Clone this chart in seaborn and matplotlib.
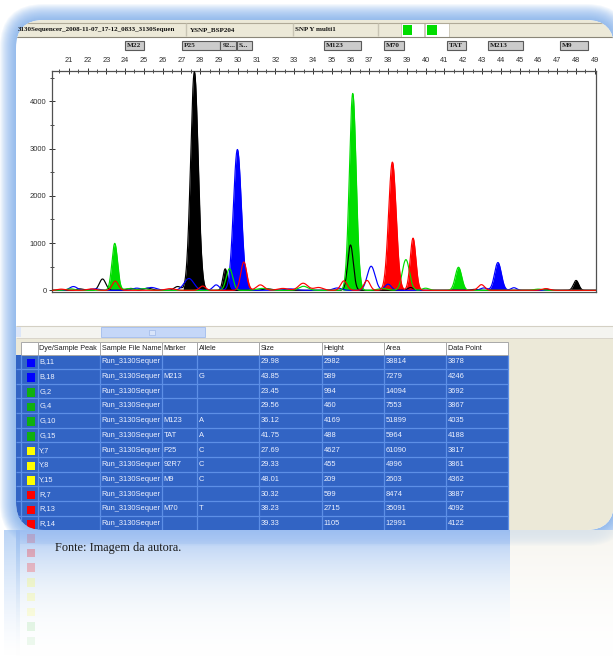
import numpy as np
import pandas as pd
import matplotlib
matplotlib.use("Agg")
import matplotlib.pyplot as plt
import matplotlib.transforms as mtransforms
from matplotlib.patches import FancyBboxPatch, Rectangle
from matplotlib.ticker import MultipleLocator
import seaborn as sns

# ------------------------------------------------------------------ data
dye_peak = ["B,11", "B,18", "G,2", "G,4", "G,10", "G,15", "Y,7", "Y,8", "Y,15", "R,7", "R,13", "R,14"]
sample_file = ["Run_3130Sequer"] * 12
marker = ["", "M213", "", "", "M123", "TAT", "P25", "92R7", "M9", "", "M70", ""]
allele = ["", "G", "", "", "A", "A", "C", "C", "C", "", "T", ""]
size_bp = [29.98, 43.85, 23.45, 29.56, 36.12, 41.75, 27.69, 29.33, 48.01, 30.32, 38.23, 39.33]
height = [2982, 589, 994, 460, 4169, 488, 4627, 455, 209, 599, 2715, 1105]
area = [38814, 7279, 14094, 7553, 51899, 5964, 61090, 4996, 2603, 8474, 35091, 12991]
data_point = [3878, 4246, 3692, 3867, 4035, 4188, 3817, 3861, 4362, 3887, 4092, 4122]
called_filled = [True, True, True, False, True, True, True, True, True, True, True, True]
called_width = [0.21, 0.18, 0.15, 0.17, 0.18, 0.17, 0.20, 0.12, 0.14, 0.16, 0.20, 0.15]

# uncalled (outline-only) peaks
minor_dye = ["Y", "Y", "Y", "Y", "Y", "Y", "Y", "Y", "Y", "Y",
             "B", "B", "B", "B", "B", "B", "B", "B", "B", "B", "B", "B",
             "G", "G", "G", "G", "G", "G", "G", "G", "G",
             "R", "R", "R", "R", "R", "R", "R", "R", "R", "R", "R", "R", "R"]
minor_size = [21.6, 22.8, 24.3, 25.2, 26.8, 31.6, 36.0, 39.2, 42.6, 46.4,
              21.25, 22.4, 24.6, 25.4, 27.4, 28.85, 32.8, 35.3, 37.1, 38.0, 43.1, 44.7,
              21.1, 24.2, 25.0, 31.3, 33.5, 37.7, 38.95, 40.0, 46.0,
              20.6, 22.2, 23.48, 26.4, 28.13, 31.2, 32.4, 33.48, 34.3, 35.65, 36.88, 42.97, 46.4]
minor_height = [30, 240, 40, 45, 80, 30, 960, 60, 20, 25,
                80, 30, 45, 60, 250, 115, 30, 50, 510, 130, 50, 55,
                30, 35, 35, 40, 85, 40, 650, 45, 25,
                25, 30, 195, 35, 90, 115, 40, 150, 60, 200, 210, 120, 35]
minor_width = [0.18, 0.17, 0.2, 0.22, 0.18, 0.25, 0.15, 0.15, 0.2, 0.18,
               0.2, 0.25, 0.22, 0.28, 0.26, 0.17, 0.3, 0.22, 0.21, 0.17, 0.18, 0.15,
               0.22, 0.25, 0.22, 0.3, 0.24, 0.25, 0.19, 0.18, 0.22,
               0.2, 0.22, 0.16, 0.25, 0.16, 0.21, 0.28, 0.24, 0.24, 0.17, 0.16, 0.17, 0.2]

marker_names = ["M22", "P25", "92...", "S...", "M123", "M70", "TAT", "M213", "M9"]
marker_lo = [24.0, 27.03, 29.07, 29.95, 34.58, 37.77, 41.12, 43.30, 47.14]
marker_hi = [25.0, 29.05, 29.93, 30.75, 36.55, 38.86, 42.13, 45.16, 48.64]

size_ticks = list(range(21, 50))
height_ticks = [0, 1000, 2000, 3000, 4000]

header_texts = ["3130Sequencer_2008-11-07_17-12_0833_3130Sequen", "YSNP_BSP204", "SNP Y multi1"]
table_columns = ["", "Dye/Sample Peak", "Sample File Name", "Marker", "Allele", "Size", "Height", "Area", "Data Point"]
caption = "Fonte: Imagem da autora."

dye_line_color = {"B": "#0000ff", "G": "#00dd00", "Y": "#000000", "R": "#ff0000"}
dye_square_color = {"B": "#0000ff", "G": "#10b010", "Y": "#ffff00", "R": "#ff0000"}

# ------------------------------------------------------------------ style
sns.set_style("white")
plt.rcParams["font.family"] = ["Liberation Sans", "DejaVu Sans"]

W, H = 613, 663
fig = plt.figure(figsize=(W / 100, H / 100), dpi=100)
fig.patch.set_facecolor("white")
bg = fig.add_axes([0, 0, 1, 1], zorder=0)
bg.set_xlim(0, W)
bg.set_ylim(H, 0)
bg.axis("off")

X0, Y0, X1, Y1, R = 16, 20, 614, 530, 28

# glow around frame
for d in range(16, 0, -1):
    bg.add_patch(FancyBboxPatch((X0 - d, Y0 - d), (X1 - X0) + 2 * d, (Y1 - Y0) + 2 * d,
                                boxstyle=f"round,pad=0,rounding_size={R + d}",
                                fc=(0.45, 0.66, 0.93), ec="none", alpha=0.075, zorder=1))

# reflection below the frame
ny = 130
alpha_col = np.linspace(1, 0, ny) ** 1.5
refl = np.zeros((ny, 2, 4))
refl[:, :, 0] = 0.62 + 0.28 * (1 - alpha_col[:, None])
refl[:, :, 1] = 0.75 + 0.19 * (1 - alpha_col[:, None])
refl[:, :, 2] = 0.95
refl[:, :, 3] = 0.85 * alpha_col[:, None]
bg.imshow(refl, extent=[X0, 510, Y1 + ny, Y1], aspect="auto", zorder=1, interpolation="bilinear")
refl2 = refl.copy()
refl2[:, :, 0] = 0.96
refl2[:, :, 1] = 0.95
refl2[:, :, 2] = 0.92
refl2[:, :, 3] = 0.75 * alpha_col[:, None]
bg.imshow(refl2, extent=[510, X1, Y1 + ny, Y1], aspect="auto", zorder=1, interpolation="bilinear")
# glow reflection at the left edge
edge = np.zeros((ny, 2, 4))
edge[:, :, 0] = 0.55
edge[:, :, 1] = 0.72
edge[:, :, 2] = 0.94
edge[:, :, 3] = 0.6 * alpha_col[:, None]
bg.imshow(edge, extent=[4, X0 + 4, Y1 + ny, Y1], aspect="auto", zorder=1, interpolation="bilinear")
# faint reflected colour squares of the table
refl_rows = list(range(11, 3, -1))
for k, i in enumerate(refl_rows):
    cy = Y1 + 8 + 14.7 * k
    c = dye_square_color[dye_peak[i][0]]
    bg.add_patch(Rectangle((26.5, cy - 4), 8.5, 8.5, fc=c, ec="none",
                           alpha=max(0.05, 0.28 - 0.03 * k), zorder=2))
bg.imshow(refl[:14], extent=[X0, 510, Y1 + 14, Y1], aspect="auto", zorder=2, alpha=0.6)

# content area (rounded clip)
clip = FancyBboxPatch((X0, Y0), X1 - X0, Y1 - Y0, boxstyle=f"round,pad=0,rounding_size={R}",
                      fc="white", ec="none", transform=bg.transData, zorder=3)
bg.add_patch(clip)


def rect(x, y, w, h, fc, ec="none", lw=0.0, z=4):
    p = Rectangle((x, y), w, h, fc=fc, ec=ec, lw=lw, zorder=z)
    bg.add_patch(p)
    p.set_clip_path(clip)
    return p


def hline(y, x0, x1, c, lw=0.8, z=5):
    l, = bg.plot([x0, x1], [y, y], color=c, lw=lw, zorder=z, solid_capstyle="butt")
    l.set_clip_path(clip)


def vline(x, y0, y1, c, lw=0.8, z=5):
    l, = bg.plot([x, x], [y0, y1], color=c, lw=lw, zorder=z, solid_capstyle="butt")
    l.set_clip_path(clip)


# header band
rect(X0, Y0, X1 - X0, 17, "#ece9d8")
hline(22.5, X0, X1, "#b0aa98", 0.8)
hline(36.5, X0, X1, "#8a8678", 0.8)
for xs in [186.3, 292.5, 377.8]:
    vline(xs, 23, 36, "#c8c4b4", 1.0)
rect(400.5, 23, 23.5, 13.5, "white", "#c8c4b4", 0.6)
rect(425.3, 23, 23.5, 13.5, "white", "#c8c4b4", 0.6)
rect(402.5, 25, 9.8, 9.8, "#00dd00", z=6)
rect(427.3, 25, 9.8, 9.8, "#00dd00", z=6)
for xt, t in zip([18, 190, 295], header_texts):
    tt = bg.text(xt, 29.8, t, fontsize=5.0, fontweight="bold", va="center", ha="left",
                 family=["Liberation Serif", "DejaVu Serif"], color="#101010", zorder=7)
    tt.set_clip_path(clip)

# scrollbar band
rect(X0, 325.5, X1 - X0, 13, "#f4f4f0")
hline(325.5, X0, X1, "#d4d0c4", 0.8)
hline(338.3, X0, X1, "#d4d0c4", 0.6)
rect(101, 327, 104, 10, "#c5d7f8", "#a9c1ee", 0.7, z=6)
rect(149, 329.5, 6, 5, "#d8e4fa", "#9fb8e8", 0.5, z=7)
rect(X0, 327, 4.5, 10, "#dce6f8", z=6)

# table area
tab_top, head_h, row_h = 341.5, 13.0, 14.7
col_edges = [16, 20.7, 37.7, 100, 162, 197, 259, 322, 384, 446, 508]
rect(508, 338.5, X1 - 508, Y1 - 338.5, "#ece9d8")
rect(X0, 338.5, 508 - X0, 3, "#ece9d8")
rect(X0, tab_top, 20.7 - X0, head_h, "#ece9d8")
for j in range(1, len(col_edges) - 1):
    rect(col_edges[j], tab_top, col_edges[j + 1] - col_edges[j], head_h, "white", "#a8a8a8", 0.7, z=5)
for j, name in enumerate(table_columns):
    if name:
        bg.text(col_edges[j + 1] + 1.5, tab_top + head_h / 2 + 0.3, name, fontsize=5.25,
                va="center", ha="left", color="#202020", zorder=7)

body_top = tab_top + head_h
rect(X0, body_top, 508 - X0, Y1 - body_top, "#3264c4")
row_vals = list(zip(dye_peak, sample_file, marker, allele,
                    [f"{v:.2f}" for v in size_bp], [str(v) for v in height],
                    [str(v) for v in area], [str(v) for v in data_point]))
for i, vals in enumerate(row_vals):
    y_top = body_top + row_h * i
    cy = y_top + row_h / 2
    hline(y_top + row_h - 0.4, X0, 508, "#5d8fe6", 0.9)
    rect(26.5, cy - 3.2, 8.5, 8.5, dye_square_color[vals[0][0]], z=6)
    for j, v in enumerate(vals):
        if v:
            tt = bg.text(col_edges[j + 2] + 1.5, cy, v, fontsize=5.4, va="center", ha="left",
                         color="#eef2ff", zorder=7)
            tt.set_clip_path(clip)
for xs in col_edges[1:]:
    vline(xs, body_top, Y1, "#5d8fe6", 0.9)

# caption
bg.text(55, 548.5, caption, fontsize=8.8, va="center", ha="left",
        family=["Liberation Serif", "DejaVu Serif"], color="#1a1a1a", zorder=8)

# ------------------------------------------------------------------ electropherogram
ax_l, ax_r, ax_t, ax_b = 52, 596, 70.5, 292.3
ax = fig.add_axes([ax_l / W, 1 - ax_b / H, (ax_r - ax_l) / W, (ax_b - ax_t) / H], zorder=2)
ax.set_facecolor("white")

x = np.arange(20.0, 49.2, 0.005)
peak_tab = pd.DataFrame({
    "dye": [d[0] for d in dye_peak] + minor_dye,
    "size": size_bp + minor_size,
    "height": height + minor_height,
    "width": called_width + minor_width,
})
frames = []
traces = {}
for dye in ["Y", "B", "G", "R"]:
    sub = peak_tab[peak_tab["dye"] == dye]
    y = np.zeros_like(x)
    for _, p in sub.iterrows():
        y += p["height"] * np.exp(-0.5 * ((x - p["size"]) / p["width"]) ** 2)
    traces[dye] = y
    frames.append(pd.DataFrame({"size": x, "rfu": y, "dye": dye}))
trace_df = pd.concat(frames, ignore_index=True)

# filled (called) peaks: red R,7 under blue B,11
fill_order = [9] + [i for i in range(len(dye_peak)) if i != 9]
for z, i in enumerate(fill_order):
    if not called_filled[i]:
        continue
    d = dye_peak[i][0]
    m = np.abs(x - size_bp[i]) < 3.0 * called_width[i]
    ax.fill_between(x[m], 0, traces[d][m], color=dye_line_color[d], lw=0, zorder=2 + 0.01 * z)

sns.lineplot(data=trace_df, x="size", y="rfu", hue="dye", hue_order=["Y", "B", "G", "R"],
             palette=dye_line_color, estimator=None, sort=False, legend=False,
             linewidth=0.85, ax=ax, zorder=4)

ax.set_xlim(20.11, 49.07)
ax.set_ylim(-42, 4655)
ax.set_xlabel("")
ax.set_ylabel("")
ax.set_xticks(size_ticks)
ax.set_xticklabels([str(t) for t in size_ticks])
ax.xaxis.set_minor_locator(MultipleLocator(0.5))
ax.set_yticks(height_ticks)
ax.set_yticklabels([str(t) for t in height_ticks])
ax.yaxis.set_minor_locator(MultipleLocator(500))
ax.xaxis.tick_top()
ax.tick_params(axis="x", which="major", top=True, bottom=False, labeltop=True, labelbottom=False,
               direction="inout", length=4.5, width=0.7, pad=2.5, labelsize=5.3,
               colors="#303030")
ax.tick_params(axis="x", which="minor", top=True, bottom=False, direction="inout",
               length=3, width=0.6, colors="#303030")
ax.tick_params(axis="y", which="major", left=True, direction="inout", length=4, width=0.7,
               pad=2, labelsize=5.5, colors="#303030")
ax.tick_params(axis="y", which="minor", left=True, direction="inout", length=3, width=0.6,
               colors="#303030")
for s in ax.spines.values():
    s.set_visible(True)
    s.set_color("#505050")
    s.set_linewidth(0.9)
ax.grid(False)

# marker bin boxes above the scale
blend = mtransforms.blended_transform_factory(ax.transData, bg.transData)
for name, lo, hi in zip(marker_names, marker_lo, marker_hi):
    ax.add_patch(Rectangle((lo, 41), hi - lo, 8.5, transform=blend, clip_on=False,
                           fc="#cbcbcb", ec="#5a5a5a", lw=0.8, zorder=6))
    ax.text(lo + 0.12, 45.4, name, transform=blend, fontsize=5.2, fontweight="bold",
            family=["Liberation Serif", "DejaVu Serif"], va="center", ha="left",
            color="#202020", clip_on=False, zorder=7)

fig.savefig("out.png", dpi=100, facecolor="white")
